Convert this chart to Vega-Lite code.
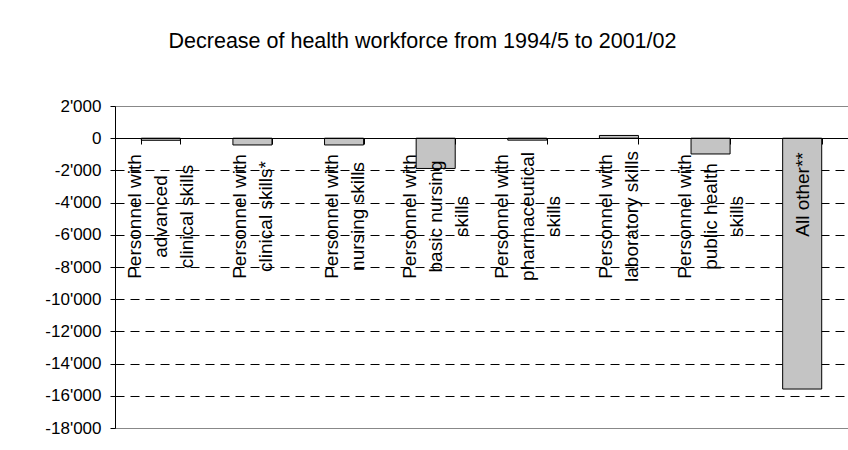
{
  "$schema": "https://vega.github.io/schema/vega-lite/v6.json",
  "width": 733,
  "height": 322,
  "autosize": {"type": "none"},
  "padding": {"left": 115, "top": 106, "right": 0, "bottom": 22},
  "background": "white",
  "config": {
    "font": "Liberation Sans",
    "view": {"stroke": "#888888", "strokeWidth": 1}
  },
  "title": {
    "text": "Decrease of health workforce from 1994/5 to 2001/02",
    "font": "Liberation Sans",
    "fontSize": 21.5,
    "fontWeight": "normal",
    "color": "black",
    "frame": "group",
    "anchor": "middle",
    "dx": -59,
    "baseline": "alphabetic",
    "offset": 28
  },
  "data": {
    "values": [
      {"category": "Personnel with|advanced|clinical skills", "change": -130},
      {"category": "Personnel with|clinical skills*", "change": -420},
      {"category": "Personnel with|nursing skills", "change": -420},
      {"category": "Personnel with|basic nursing|skills", "change": -1880},
      {"category": "Personnel with|pharmaceutical|skills", "change": -120},
      {"category": "Personnel with|laboratory skills", "change": 170},
      {"category": "Personnel with|public health|skills", "change": -980},
      {"category": "All other**", "change": -15580}
    ]
  },
  "mark": {"type": "bar", "fill": "#c4c4c4", "stroke": "black", "strokeWidth": 1},
  "encoding": {
    "x": {
      "field": "category",
      "type": "nominal",
      "sort": null,
      "scale": {"paddingInner": 0.574, "paddingOuter": 0.287},
      "axis": {
        "orient": "bottom",
        "offset": -290,
        "zindex": 1,
        "title": null,
        "grid": false,
        "labelAngle": 270,
        "labelAlign": "center",
        "labelBaseline": "middle",
        "labelPadding": {"condition": {"test": "datum.value === 'All other**'", "value": 50}, "value": 72},
        "labelOffset": {"condition": [
          {"test": "length(split(datum.value, '|')) == 3", "value": -26},
          {"test": "length(split(datum.value, '|')) == 2", "value": -13}
        ], "value": 0},
        "labelExpr": "split(datum.label, '|')",
        "labelFont": "Liberation Sans",
        "labelFontSize": 19,
        "labelLineHeight": 26,
        "labelColor": "black",
        "labelLimit": 0,
        "labelOverlap": false,
        "tickBand": "extent",
        "tickSize": 6,
        "tickColor": "black",
        "domainColor": "black",
        "domainWidth": 1
      }
    },
    "y": {
      "field": "change",
      "type": "quantitative",
      "scale": {"domain": [-18000, 2000], "nice": false, "zero": false},
      "axis": {
        "title": null,
        "values": [2000, 0, -2000, -4000, -6000, -8000, -10000, -12000, -14000, -16000, -18000],
        "labelExpr": "(datum.value < 0 ? '-' : '') + replace(format(abs(datum.value), ','), ',', \"'\")",
        "labelFont": "Liberation Sans",
        "labelFontSize": 17,
        "labelColor": "black",
        "labelPadding": 9,
        "tickSize": 5,
        "tickColor": "black",
        "domainColor": "black",
        "grid": true,
        "gridDash": [9, 6],
        "gridColor": {"condition": {"test": "datum.value > 1000 || datum.value < -17000", "value": "transparent"}, "value": "black"},
        "gridWidth": 1
      }
    }
  }
}
